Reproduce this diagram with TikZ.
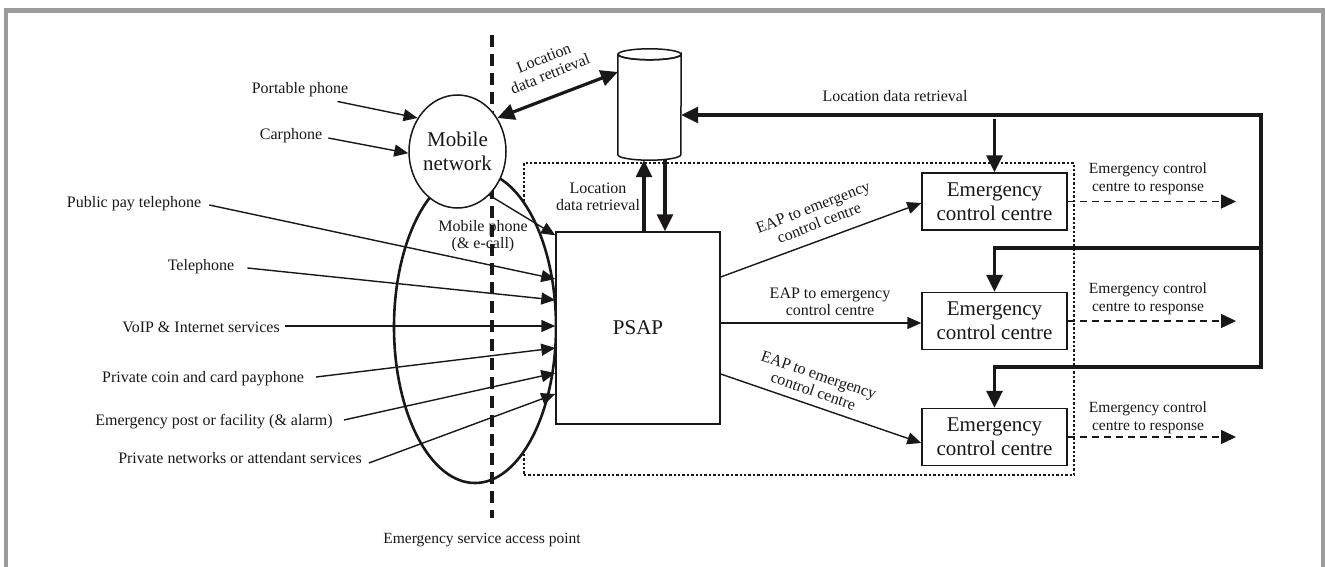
\documentclass[tikz,border=0pt]{standalone}
\usepackage{fontspec}
\setmainfont{Liberation Serif}
\usetikzlibrary{arrows.meta,shapes.geometric,calc}
\definecolor{ink}{RGB}{25,23,23}
\definecolor{framegray}{RGB}{155,155,155}
\begin{document}
\begin{tikzpicture}[x=1pt,y=-1pt,
  lbl/.style={font=\fontsize{16}{17}\selectfont, inner sep=3pt, align=center, text=ink},
  smalllbl/.style={font=\fontsize{15.5}{17.5}\selectfont, inner sep=3pt, align=center, text=ink},
  big/.style={font=\fontsize{21}{24}\selectfont, align=center, text=ink},
  thinarrow/.style={draw=ink, line width=1.4pt, -{Triangle[length=14pt,width=12pt]}},
  thickline/.style={draw=ink, line width=3.2pt},
  thickarrow/.style={thickline, -{Triangle[length=17pt,width=16pt]}},
  dasharrow/.style={draw=ink, line width=1.4pt, dash pattern=on 7pt off 5pt, -{Triangle[length=15pt,width=14pt]}},
  eccbox/.style={big, draw=ink, line width=1.4pt, minimum width=145pt, minimum height=57pt, inner sep=0pt, fill=white},
]
\useasboundingbox (0,0) rectangle (1325,567);
% frame
\draw[framegray, line width=4.5pt] (6,567) -- (6,10.5) -- (1323,10.5) -- (1323,567);

% dotted region
\node[draw=ink, line width=2.6pt, dash pattern=on 2.4pt off 2pt, minimum width=550pt, minimum height=312pt, inner sep=0pt] (region) at (799,319) {};

% big ellipse (ESAP)
\node[ellipse, draw=ink, line width=2.6pt, fill=white, minimum width=162pt, minimum height=312pt, inner sep=0pt] (esap) at (475,327) {};

% dashed ESAP line
\coordinate (dtop) at (492,35);
\coordinate (dbot) at (492,518);
\draw[ink, line width=3.2pt, dash pattern=on 12pt off 7pt] (dtop) -- (dbot);

% mobile network
\node[ellipse, draw=ink, line width=1.5pt, fill=white, minimum width=97pt, minimum height=113pt, inner sep=0pt] (mob) at (457.5,151.5) {};
\node[big] (mobtxt) at (mob) {Mobile\\network};

% database cylinder
\node[minimum width=63pt, minimum height=111pt, inner sep=0pt] (db) at (649.5,104.5) {};
\draw[ink, line width=1.5pt, fill=white] ($(db.north west)+(0,5.5)$) -- ($(db.south west)+(0,-5.5)$)
  arc[start angle=180, end angle=0, x radius=31.5, y radius=5.5] -- ($(db.north east)+(0,5.5)$)
  arc[start angle=0, end angle=180, x radius=31.5, y radius=5.5] -- cycle;
\draw[ink, line width=1.5pt] ($(db.north)+(0,5.5)$) ellipse[x radius=31.5, y radius=5.5];

% PSAP and ECCs
\node[big, draw=ink, line width=1.4pt, fill=white, minimum width=164pt, minimum height=192pt, inner sep=0pt] (psap) at (638,328) {PSAP};
\node[eccbox] (ecc1) at (994.5,201.5) {Emergency\\control centre};
\node[eccbox] (ecc2) at (994.5,321) {Emergency\\control centre};
\node[eccbox] (ecc3) at (994.5,437) {Emergency\\control centre};

% left labels
\node[lbl] (port) at (300,90) {Portable phone};
\node[lbl] (car) at (291,136) {Carphone};
\node[lbl] (pub) at (134,204) {Public pay telephone};
\node[lbl] (tel) at (201,267) {Telephone};
\node[lbl] (voip) at (201,327) {VoIP \& Internet services};
\node[lbl] (coin) at (203,379) {Private coin and card payphone};
\node[lbl] (post) at (214,422) {Emergency post or facility (\& alarm)};
\node[lbl] (priv) at (240,458) {Private networks or attendant services};

% other labels
\node[lbl] (mph) at (483,236) {Mobile phone\\(\& e-call)};
\node[lbl, rotate=22] (loc1) at (547,66) {Location\\data retrieval};
\node[lbl] (loc2) at (598,197) {Location\\data retrieval};
\node[lbl] (loc3) at (895,96) {Location data retrieval};
\node[lbl, rotate=21] (eap1) at (816,215) {EAP to emergency\\control centre};
\node[lbl] (eap2) at (830,302) {EAP to emergency\\control centre};
\node[lbl, rotate=-19] (eap3) at (816,383) {EAP to emergency\\control centre};
\node[smalllbl] (r1) at (1148,179) {Emergency control\\centre to response};
\node[smalllbl] (r2) at (1148,299) {Emergency control\\centre to response};
\node[smalllbl] (r3) at (1148,418) {Emergency control\\centre to response};
\node[smalllbl] (esaplbl) at (482,540) {Emergency service access point};

% arrows into mobile network
\draw[thinarrow] ($(port.south east)+(-14,1)$) -- (mob.140);
\draw[thinarrow] ($(car.east)+(3,2)$) -- (mob.182);
% arrows into PSAP
\draw[thinarrow] (mob.-54) -- ($(psap.north west)+(0,4)$);
\draw[thinarrow] ($(pub.east)+(5,1)$) -- ($(psap.west)+(0,-49)$);
\draw[thinarrow] ($(tel.east)+(10,1)$) -- ($(psap.west)+(0,-28)$);
\draw[thinarrow] ($(voip.east)+(2,-1)$) -- ($(psap.west)+(0,-2)$);
\draw[thinarrow] ($(coin.east)+(9,-2)$) -- ($(psap.west)+(0,20)$);
\draw[thinarrow] ($(post.east)+(8,-2)$) -- ($(psap.west)+(0,45)$);
\draw[thinarrow] ($(priv.east)+(4,5)$) -- ($(psap.west)+(0,66)$);

% location data retrieval arrows
\draw[thickline, {Triangle[length=17pt,width=16pt]}-{Triangle[length=17pt,width=16pt]}] (mob.40) -- ($(db.west)+(0,-32.5)$);
\draw[thickarrow] ($(psap.north)+(6,0)$) -- ($(db.south)+(-5.5,0)$);
\draw[thickarrow] ($(db.south)+(15.5,0)$) -- ($(psap.north)+(27,0)$);

% loop on the right
\coordinate (ltop) at (1261,115);
\coordinate (lmid) at (1261,248);
\coordinate (lbot) at (1261,367);
\coordinate (e1src) at (994.5,119);
\draw[thickarrow, line join=miter] (lbot) -- (ltop) -- (db.east |- ltop);
\draw[thickarrow, line join=miter] (ltop) -- (lbot) -| (ecc3.north);
\draw[thickarrow] (lmid) -| (ecc2.north);
\draw[thickarrow] (e1src) -- (ecc1.north);

% EAP to ECC
\draw[thinarrow] ($(psap.east)+(0,-51)$) -- ($(ecc1.west)+(0,1.5)$);
\draw[thinarrow] ($(psap.east)+(0,-5)$) -- ($(ecc2.west)+(0,2)$);
\draw[thinarrow] ($(psap.east)+(0,46)$) -- ($(ecc3.west)+(0,6)$);

% ECC to response
\coordinate (resp) at (1236,0);
\draw[dasharrow] (ecc1.east) -- (ecc1.east -| resp);
\draw[dasharrow] (ecc2.east) -- (ecc2.east -| resp);
\draw[dasharrow] (ecc3.east) -- (ecc3.east -| resp);
\end{tikzpicture}
\end{document}
